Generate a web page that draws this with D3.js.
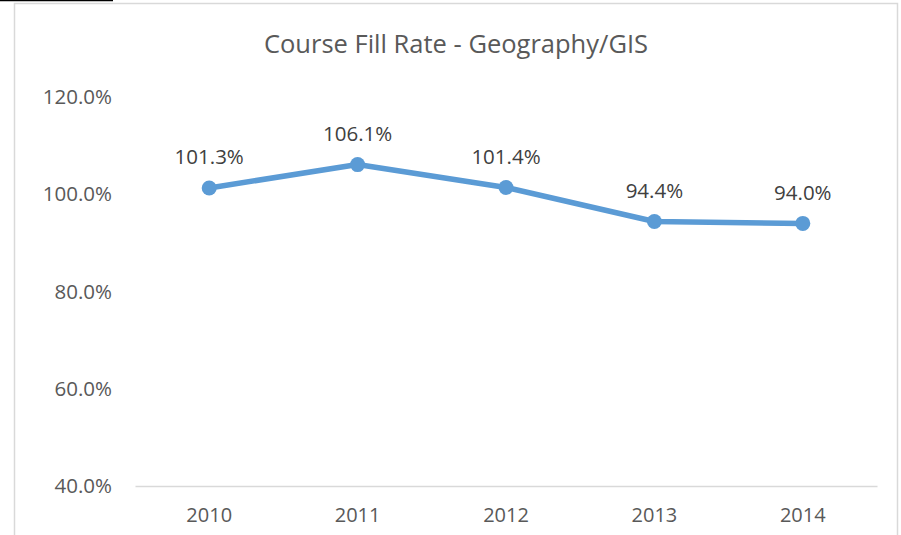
<!DOCTYPE html>
<html>
<head>
<meta charset="utf-8">
<script src="https://cdn.jsdelivr.net/npm/d3@7"></script>
<style>
  body { margin: 0; background: #fff; }
  svg { display: block; font-family: "Open Sans", sans-serif; }
</style>
</head>
<body>
<div id="chart"></div>
<script>
var width = 901;
var height = 535;

var years = ["2010", "2011", "2012", "2013", "2014"];
var fillRate = [101.3, 106.1, 101.4, 94.4, 94.0];
var yTicks = [40, 60, 80, 100, 120];

var svg = d3.select("#chart")
            .append("svg")
            .attr("width", width)
            .attr("height", height);

// little black rule at the very top left
svg.append("line")
    .attr("x1", 0).attr("x2", 113)
    .attr("y1", 0.5).attr("y2", 0.5)
    .attr("stroke", "#000")
    .attr("stroke-width", 1.5);

// chart frame (bottom is cut off in the picture)
svg.append("rect")
    .attr("x", 14.5).attr("y", 3.5)
    .attr("width", 883).attr("height", 560)
    .attr("fill", "none")
    .attr("stroke", "#d9d9d9")
    .attr("stroke-width", 1.5);

svg.append("text")
    .attr("x", 456)
    .attr("y", 53)
    .attr("text-anchor", "middle")
    .attr("fill", "#595959")
    .style("font-size", "25.5px")
    .text("Course Fill Rate - Geography/GIS");

var x = d3.scaleBand()
    .domain(years)
    .range([135, 877]);

var y = d3.scaleLinear()
    .domain([40, 120])
    .range([486, 97]);

// y axis labels
svg.append("g")
    .selectAll("text")
    .data(yTicks)
    .enter()
    .append("text")
    .attr("x", 112)
    .attr("y", function(d) { return y(d); })
    .attr("dy", "0.35em")
    .attr("text-anchor", "end")
    .attr("fill", "#595959")
    .style("font-size", "20.5px")
    .text(function(d) { return d.toFixed(1) + "%"; });

// baseline
var xAxis = svg.append("g")
    .attr("transform", "translate(0," + y(40) + ")")
    .call(d3.axisBottom(x).tickSize(0).tickPadding(22));

xAxis.select(".domain")
    .attr("stroke", "#d9d9d9")
    .attr("stroke-width", 1.5);

xAxis.selectAll("text")
    .attr("fill", "#595959")
    .style("font-size", "20px")
    .style("font-family", "Open Sans, sans-serif");

var cx = function(d, i) { return x(years[i]) + x.bandwidth() / 2; };

var line = d3.line()
    .x(function(d, i) { return cx(d, i); })
    .y(function(d) { return y(d); });

svg.append("path")
    .datum(fillRate)
    .attr("d", line)
    .attr("fill", "none")
    .attr("stroke", "#5b9bd5")
    .attr("stroke-width", 5.5)
    .attr("stroke-linejoin", "round")
    .attr("stroke-linecap", "round");

svg.selectAll("circle")
    .data(fillRate)
    .enter()
    .append("circle")
    .attr("cx", cx)
    .attr("cy", function(d) { return y(d); })
    .attr("r", 7.5)
    .attr("fill", "#5b9bd5");

svg.selectAll(".lbl")
    .data(fillRate)
    .enter()
    .append("text")
    .attr("class", "lbl")
    .attr("x", cx)
    .attr("y", function(d) { return y(d) - 31; })
    .attr("dy", "0.35em")
    .attr("text-anchor", "middle")
    .attr("fill", "#404040")
    .style("font-size", "20.5px")
    .text(function(d) { return d.toFixed(1) + "%"; });
</script>
</body>
</html>
